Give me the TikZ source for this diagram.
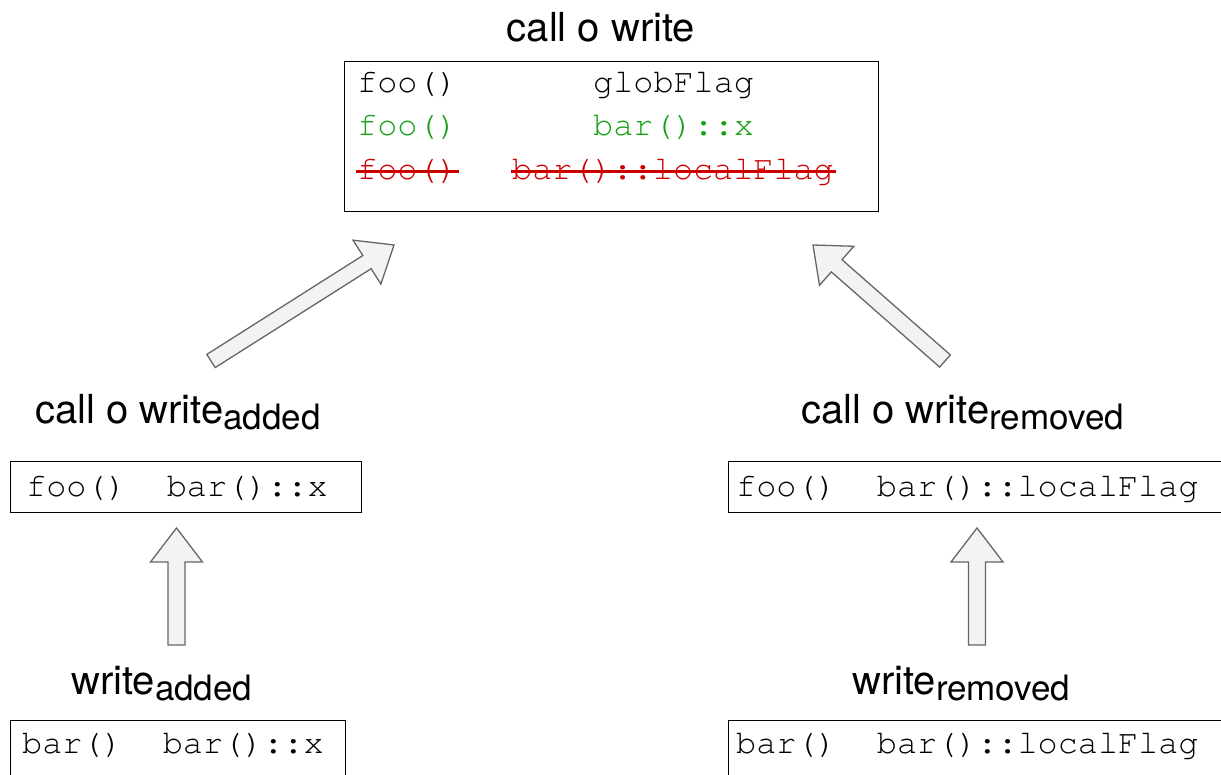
\documentclass[tikz,border=0pt]{standalone}
\usepackage{fontspec}
\setmainfont{TeX Gyre Heros}
\newfontfamily\monofont{texgyrecursor-regular.otf}
\usetikzlibrary{calc}
\definecolor{arrfill}{RGB}{243,243,243}
\definecolor{arrdraw}{RGB}{102,102,102}
\definecolor{addgreen}{RGB}{22,160,22}
\definecolor{remred}{RGB}{204,0,0}
\newcommand\subtxt[1]{\raisebox{-6pt}{\fontsize{35}{42}\selectfont #1}}
% tail, tip, shaft half width, head half width, head length
\newcommand\blockarrow[5]{%
  \coordinate (ba-c) at ($(#2)!#5!(#1)$);
  \draw[blockarrowstyle] ($(#1)!#3!90:(#2)$) -- ($(ba-c)!#3!-90:(#1)$)
    -- ($(ba-c)!#4!-90:(#1)$) -- (#2) -- ($(ba-c)!#4!90:(#1)$)
    -- ($(ba-c)!#3!90:(#1)$) -- ($(#1)!#3!-90:(#2)$) -- cycle;
}
\tikzset{
  blockarrowstyle/.style={fill=arrfill, draw=arrdraw, line width=1.3pt, line join=miter},
  boxstyle/.style={draw=black, line width=1.3pt, inner sep=0, anchor=north west},
  code/.style={font={\monofont\fontsize{33.5}{40}\selectfont}, inner sep=0, anchor=base west},
  lab/.style={font={\fontsize{40}{48}\selectfont}, inner sep=0, anchor=base west},
  strike/.style={draw=remred, line width=3pt, shorten <=-1.5pt, shorten >=-1.5pt},
}
\begin{document}
\begin{tikzpicture}[x=1pt, y=-1pt]
\clip (0,0) rectangle (1221,775);
\fill[white] (0,0) rectangle (1221,775);

% title and top box
\node[lab, anchor=base] (ttl) at (601,42) {call o write};
\node[boxstyle, minimum width=534, minimum height=150] (topbox) at (344,61) {};
\node[code] (r1a) at (357,93) {foo()};
\node[code] (r1b) at (593,93) {globFlag};
\node[code, text=addgreen] (r2a) at (357,136) {foo()};
\node[code, text=addgreen] (r2b) at (593,136) {bar()::x};
\node[code, text=remred] (r3a) at (357,180) {foo()};
\node[code, text=remred] (r3b) at (512,180) {bar()::localFlag};
\draw[strike] ([yshift=8pt]r3a.base west) -- ([yshift=8pt]r3a.base east);
\draw[strike] ([yshift=8pt]r3b.base west) -- ([yshift=8pt]r3b.base east);

% middle labels and boxes
\node[lab] (labcwa) at (35,424) {call o write\subtxt{added}};
\node[lab] (labcwr) at (801,424) {call o write\subtxt{removed}};
\node[boxstyle, minimum width=351, minimum height=51] (midL) at (10,461) {};
\node[code] (midLt) at (26,496) {foo()~~bar()::x};
\node[boxstyle, minimum width=520, minimum height=51] (midR) at (728,461) {};
\node[code] (midRt) at (736,496) {foo()~~bar()::localFlag};

% bottom labels and boxes
\node[lab] (labwa) at (71,694) {write\subtxt{added}};
\node[lab] (labwr) at (852,694) {write\subtxt{removed}};
\node[boxstyle, minimum width=335, minimum height=80] (botL) at (10,720) {};
\node[code] (botLt) at (22,753) {bar()~~bar()::x};
\node[boxstyle, minimum width=520, minimum height=80] (botR) at (728,720) {};
\node[code] (botRt) at (736,753) {bar()~~bar()::localFlag};

% block arrows
\coordinate (aLt) at (211,361); \coordinate (aLh) at (394,245);
\blockarrow{aLt}{aLh}{7.8pt}{26pt}{32pt}
\coordinate (aRt) at (945,361); \coordinate (aRh) at (813,245);
\blockarrow{aRt}{aRh}{8.1pt}{26pt}{31.5pt}
\coordinate (vLt) at (176.5,645); \coordinate (vLh) at (176.5,528);
\blockarrow{vLt}{vLh}{8.5pt}{26pt}{34pt}
\coordinate (vRt) at (977,645); \coordinate (vRh) at (977,528);
\blockarrow{vRt}{vRh}{8.5pt}{26pt}{34pt}
\end{tikzpicture}
\end{document}
